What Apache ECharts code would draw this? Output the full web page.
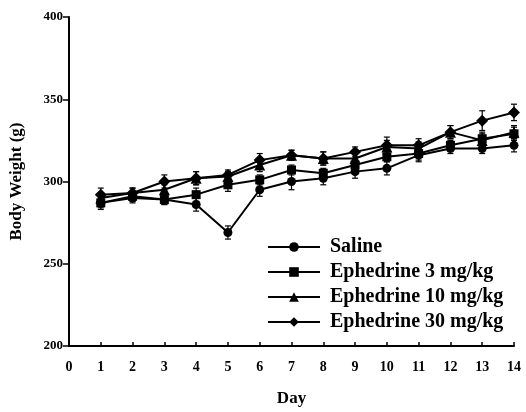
<!DOCTYPE html>
<html>
<head>
<meta charset="utf-8">
<script src="https://cdn.jsdelivr.net/npm/echarts@6/dist/echarts.min.js"></script>
<style>
    html,body{margin:0;padding:0;background:#fff;}
    #main{width:526px;height:412px;}
</style>
</head>
<body>
<div id="main"></div>
<script>
    //天数
    var days=[1,2,3,4,5,6,7,8,9,10,11,12,13,14];
    var xTicks=[0,1,2,3,4,5,6,7,8,9,10,11,12,13,14];
    var yTicks=[200,250,300,350,400];

    //各组体重均值
    var saline=[287,290,289,286,269,295,300,302,306,308,316,320,320,322];
    var eph3=[287,291,289,292,298,301,307,305,310,315,317,322,326,329];
    var eph10=[290,293,295,302,303,310,316,314,314,321,320,330,325,330];
    var eph30=[292,293,300,302,304,313,316,314,318,322,322,330,337,342];

    //标准误
    var salineErr=[3,3,3,4,4,4,5,4,4,4,4,3,3,4];
    var eph3Err=[4,3,3,4,4,3,3,3,3,3,4,3,4,4];
    var eph10Err=[3,3,3,4,3,4,3,4,3,4,4,4,4,4];
    var eph30Err=[4,3,4,4,3,4,3,4,3,5,4,4,6,5];

    var names=['Saline','Ephedrine 3 mg/kg','Ephedrine 10 mg/kg','Ephedrine 30 mg/kg'];
    var symbols=['circle','rect','triangle','diamond'];
    var means=[saline,eph3,eph10,eph30];
    var errs=[salineErr,eph3Err,eph10Err,eph30Err];

    var font='"Liberation Serif","Times New Roman",serif';

    function pairs(arr){
        var out=[];
        for(var i=0;i<days.length;i++){
            out.push([days[i],arr[i]]);
        }
        return out;
    }
    function errData(m,e){
        var out=[];
        for(var i=0;i<days.length;i++){
            out.push([days[i],m[i]-e[i],m[i]+e[i]]);
        }
        return out;
    }

    var renderErr=function(params,api){
        var x=api.value(0);
        var lo=api.coord([x,api.value(1)]);
        var hi=api.coord([x,api.value(2)]);
        var w=3;
        var st={stroke:'#000',lineWidth:1.2};
        return {
            type:'group',
            children:[
                {type:'line',shape:{x1:lo[0],y1:lo[1],x2:hi[0],y2:hi[1]},style:st},
                {type:'line',shape:{x1:lo[0]-w,y1:lo[1],x2:lo[0]+w,y2:lo[1]},style:st},
                {type:'line',shape:{x1:hi[0]-w,y1:hi[1],x2:hi[0]+w,y2:hi[1]},style:st}
            ]
        };
    };

    var series=[];
    for(var k=0;k<names.length;k++){
        series.push({
            type:'custom',
            name:names[k]+' err',
            renderItem:renderErr,
            data:errData(means[k],errs[k]),
            silent:true,
            z:1
        });
    }
    for(var k=0;k<names.length;k++){
        series.push({
            type:'line',
            name:names[k],
            data:pairs(means[k]),
            symbol:symbols[k],
            symbolSize:symbols[k]=='triangle'?11:(symbols[k]=='diamond'?12:9),
            lineStyle:{color:'#000',width:2},
            itemStyle:{color:'#000'},
            animation:false,
            z:3
        });
    }

    var option={
        animation:false,
        backgroundColor:'#fff',
        grid:{left:68,right:12,top:17,bottom:62},
        legend:{
            data:names,
            orient:'vertical',
            left:262,
            top:232,
            itemWidth:52,
            itemHeight:12,
            itemGap:5,
            textStyle:{fontFamily:font,fontWeight:'bold',fontSize:20,color:'#000',padding:[0,0,0,5]}
        },
        xAxis:{
            type:'value',
            min:0,
            max:14,
            interval:1,
            name:'Day',
            nameLocation:'middle',
            nameGap:44,
            nameTextStyle:{fontFamily:font,fontWeight:'bold',fontSize:17,color:'#000'},
            axisLine:{lineStyle:{color:'#000',width:2}},
            axisTick:{inside:true,length:4,lineStyle:{color:'#000',width:1.5}},
            axisLabel:{fontFamily:font,fontWeight:'bold',fontSize:14,color:'#000',margin:14},
            splitLine:{show:false}
        },
        yAxis:{
            type:'value',
            min:200,
            max:400,
            interval:50,
            name:'Body Weight (g)',
            nameLocation:'middle',
            nameGap:44,
            nameTextStyle:{fontFamily:font,fontWeight:'bold',fontSize:17,color:'#000'},
            axisLine:{lineStyle:{color:'#000',width:2}},
            axisTick:{length:6,lineStyle:{color:'#000',width:1.5}},
            axisLabel:{fontFamily:font,fontWeight:'bold',fontSize:13,color:'#000',margin:6},
            splitLine:{show:false}
        },
        series:series
    };

    var myChart=echarts.init(document.getElementById('main'));
    myChart.setOption(option);
</script>
</body>
</html>
